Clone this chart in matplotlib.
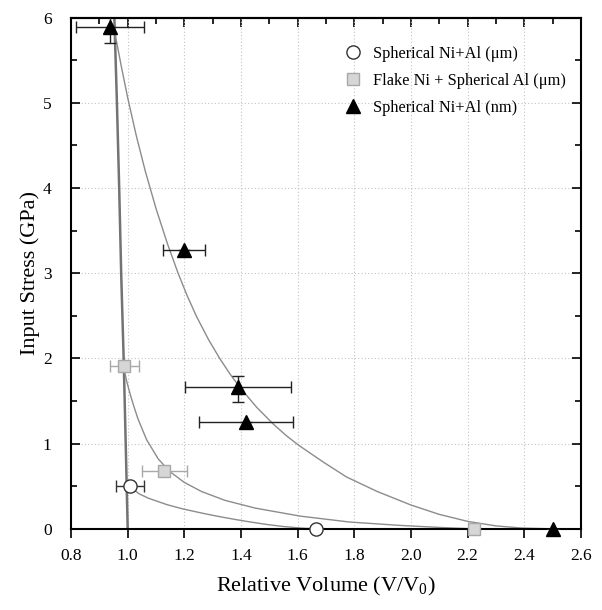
import numpy as np
import matplotlib
matplotlib.use("Agg")
import matplotlib.pyplot as plt
from matplotlib.ticker import MultipleLocator

plt.rcParams['font.family'] = ['Liberation Serif', 'DejaVu Serif']
plt.rcParams['mathtext.fontset'] = 'custom'
plt.rcParams['mathtext.rm'] = 'Liberation Serif'
plt.rcParams['mathtext.it'] = 'Liberation Serif'

# measured points (relative volume, stress in GPa)
sph_um_x = [1.008, 1.665]
sph_um_y = [0.505, 0.0]
sph_um_xerr = [0.048, 0.0]

flake_x = [0.988, 1.129, 2.222]
flake_y = [1.914, 0.685, 0.0]
flake_xerr = [0.052, 0.079, 0.0]

sph_nm_x = [0.938, 1.199, 1.390, 1.417, 2.500]
sph_nm_y = [5.890, 3.270, 1.660, 1.250, 0.0]
sph_nm_xerr = [0.120, 0.075, 0.188, 0.167, 0.0]
sph_nm_yerr_lo = [0.190, 0.050, 0.165, 0.050, 0.0]
sph_nm_yerr_hi = [0.190, 0.000, 0.140, 0.000, 0.0]

# fitted curves
solid_x = [0.953, 0.962, 0.970, 0.977, 0.986, 0.993, 1.000]
solid_y = [6.0, 5.0, 4.0, 3.0, 1.97, 1.0, 0.0]

fit_nm_x = [0.956, 0.978, 1.000, 1.030, 1.062, 1.100, 1.140, 1.178, 1.210, 1.243,
            1.285, 1.326, 1.361, 1.396, 1.455, 1.514, 1.558, 1.602, 1.690, 1.772,
            1.880, 2.000, 2.100, 2.200, 2.300, 2.390, 2.500]
fit_nm_y = [5.80, 5.42, 5.06, 4.62, 4.20, 3.76, 3.35, 3.00, 2.736, 2.493,
            2.224, 1.994, 1.819, 1.661, 1.428, 1.230, 1.100, 0.985, 0.785, 0.610,
            0.440, 0.280, 0.170, 0.088, 0.035, 0.010, 0.0]

fit_flake_x = [0.988, 0.997, 1.008, 1.022, 1.037, 1.067, 1.108, 1.149, 1.200, 1.261,
               1.343, 1.450, 1.608, 1.784, 1.960, 2.100, 2.222]
fit_flake_y = [1.867, 1.725, 1.590, 1.435, 1.285, 1.045, 0.820, 0.672, 0.545, 0.438,
               0.335, 0.244, 0.150, 0.080, 0.041, 0.017, 0.0]

fit_um_x = [1.008, 1.020, 1.040, 1.073, 1.138, 1.190, 1.255, 1.314, 1.380, 1.431,
            1.490, 1.549, 1.610, 1.665]
fit_um_y = [0.505, 0.465, 0.412, 0.360, 0.285, 0.238, 0.190, 0.150, 0.110, 0.082,
            0.052, 0.028, 0.010, 0.0]

fig = plt.figure(figsize=(6.02, 6.10), dpi=100)
ax = fig.add_axes([0.118, 0.133, 0.847, 0.838])

ax.plot(solid_x, solid_y, color='#737373', lw=1.8, zorder=2)
ax.plot(fit_nm_x, fit_nm_y, color='#8c8c8c', lw=1.0, zorder=2)
ax.plot(fit_flake_x, fit_flake_y, color='#8c8c8c', lw=1.0, zorder=2)
ax.plot(fit_um_x, fit_um_y, color='#8c8c8c', lw=1.0, zorder=2)

# error bars (clipped to the frame)
ax.errorbar(sph_um_x, sph_um_y, xerr=sph_um_xerr, fmt='none', ecolor='#333333',
            elinewidth=1.0, capsize=4, zorder=4)
ax.errorbar(flake_x, flake_y, xerr=flake_xerr, fmt='none', ecolor='#a8a8a8',
            elinewidth=1.0, capsize=4, zorder=4)
ax.errorbar(sph_nm_x, sph_nm_y, xerr=sph_nm_xerr,
            yerr=[sph_nm_yerr_lo, sph_nm_yerr_hi], fmt='none', ecolor='#222222',
            elinewidth=1.0, capsize=4, zorder=4)

# markers (drawn over the axis line)
ax.plot(sph_um_x, sph_um_y, 'o', ms=9.5, mfc='white', mec='#333333', mew=1.0,
        label='Spherical Ni+Al (\u03bcm)', zorder=6, clip_on=False)
ax.plot(flake_x, flake_y, 's', ms=8, mfc='#d6d6d6', mec='#a8a8a8', mew=1.0,
        label='Flake Ni + Spherical Al (\u03bcm)', zorder=6, clip_on=False)
ax.plot(sph_nm_x, sph_nm_y, '^', ms=9.5, mfc='black', mec='black',
        label='Spherical Ni+Al (nm)', zorder=6, clip_on=False)

ax.set_xlim(0.8, 2.6)
ax.set_ylim(0, 6)
ax.yaxis.set_major_locator(MultipleLocator(1))
ax.yaxis.set_minor_locator(MultipleLocator(0.5))
xt = np.arange(0.8, 2.61, 0.2)
ax.set_xticks(xt)
ax.set_xticklabels([f'{v:.1f}' for v in xt])

ax.grid(True, which='major', ls=(0, (1, 2)), color='#c4c4c4', lw=0.8)
ax.set_axisbelow(True)

ax.tick_params(axis='x', which='major', direction='out', length=6.5, width=1.2,
               labelsize=12.5, pad=7)
ax.tick_params(axis='y', which='both', direction='in', right=True, width=1.2,
               labelsize=12.5, pad=14)
ax.tick_params(axis='y', which='major', length=6.5)
ax.tick_params(axis='y', which='minor', length=4)

top = ax.secondary_xaxis('top')
top.xaxis.set_major_locator(MultipleLocator(0.2))
top.xaxis.set_minor_locator(MultipleLocator(0.1))
top.tick_params(which='both', direction='in', width=1.2, labeltop=False)
top.tick_params(which='major', length=6.5)
top.tick_params(which='minor', length=4)
top.spines['top'].set_linewidth(1.5)

for s in ax.spines.values():
    s.set_linewidth(1.5)

ax.set_xlabel('Relative Volume (V/V$_0$)', fontsize=16, labelpad=8)
ax.set_ylabel('Input Stress (GPa)', fontsize=16, labelpad=2)

leg = ax.legend(loc='upper right', bbox_to_anchor=(0.993, 0.967), frameon=False,
                fontsize=11.8, handletextpad=0.7, labelspacing=0.66,
                handlelength=1.0, borderaxespad=0.3)

fig.savefig('out.png', dpi=100)
